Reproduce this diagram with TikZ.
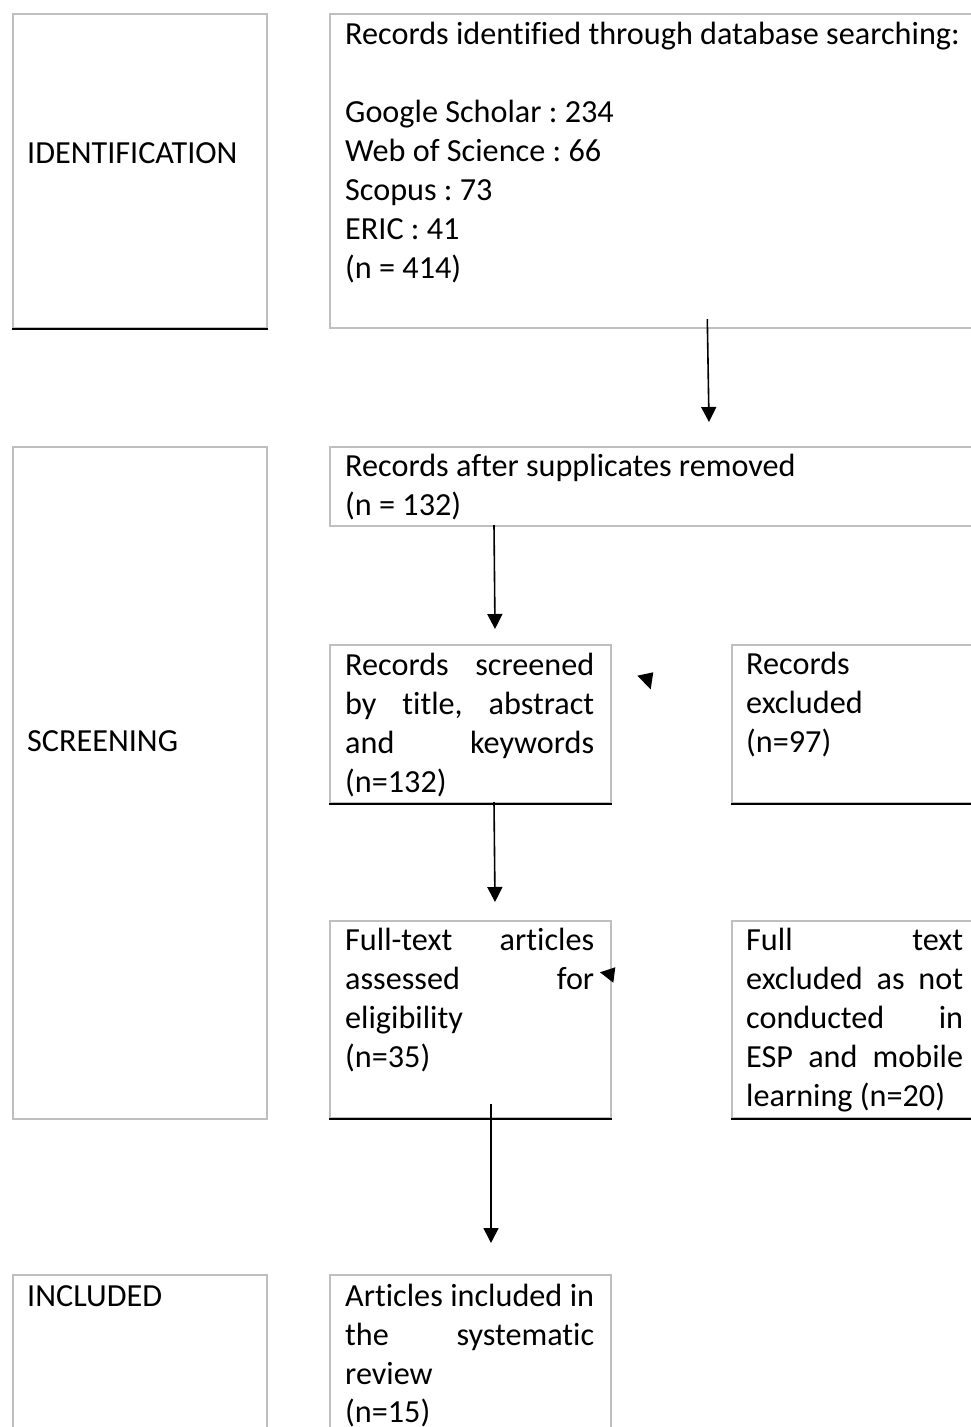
\documentclass[tikz,border=0pt]{standalone}
\usepackage{fontspec}
\setmainfont[Ligatures=NoCommon]{Carlito}
\usetikzlibrary{arrows.meta}
\definecolor{boxgray}{HTML}{BFBFBF}
\frenchspacing
\begin{document}
\frenchspacing
\begin{tikzpicture}[x=1pt,y=-1pt,
  box/.style={draw=boxgray, line width=2pt, rectangle, inner sep=0pt, anchor=north west},
  ln/.style={font=\fontsize{32.2}{39}\selectfont, inner sep=0pt, anchor=base west},
  arr/.style={line width=1.6pt, -{Triangle[width=15pt,length=15pt]}},
  blk/.style={line width=2.2pt, black},
  head/.style={fill=black}]
\useasboundingbox[fill=white] (0,0) rectangle (970,1427);

% boxes
\node[box, minimum width=254pt, minimum height=314pt] (idbox) at (12,13) {};
\node[box, minimum width=660pt, minimum height=314pt] (recid) at (329,13) {};
\node[box, minimum width=254pt, minimum height=672pt] (scrbox) at (12,446) {};
\node[box, minimum width=660pt, minimum height=79pt] (recafter) at (329,446) {};
\node[box, minimum width=281pt, minimum height=158pt] (screened) at (329,644) {};
\node[box, minimum width=250pt, minimum height=158pt] (excl1) at (731,644) {};
\node[box, minimum width=281pt, minimum height=197pt] (fulltext) at (329,920) {};
\node[box, minimum width=250pt, minimum height=197pt] (excl2) at (731,920) {};
\node[box, minimum width=254pt, minimum height=200pt] (incbox) at (12,1274) {};
\node[box, minimum width=281pt, minimum height=200pt] (artbox) at (329,1274) {};

% black bottom edges
\draw[blk] (idbox.south west) -- (idbox.south east);
\draw[blk] (screened.south west) -- (screened.south east);
\draw[blk] (excl1.south west) -- (excl1.south east);
\draw[blk] (fulltext.south west) -- (fulltext.south east);
\draw[blk] (excl2.south west) -- (excl2.south east);

% stage labels
\node[ln] (lid) at (27,163) {IDENTIFICATION};
\node[ln] (lscr) at (27,751) {SCREENING};
\node[ln] (linc) at (27,1306) {INCLUDED};

% records identified
\node[ln] (r1) at (345,44) {Records identified through database searching:};
\node[ln] (r2) at (345,122) {Google Scholar : 234};
\node[ln] (r3) at (345,161) {Web of Science : 66};
\node[ln] (r4) at (345,200) {Scopus : 73};
\node[ln] (r5) at (345,239) {ERIC : 41};
\node[ln] (r6) at (345,278) {(n = 414)};

% records after
\node[ln] (d1) at (345,476) {Records after supplicates removed};
\node[ln] (d2) at (345,515) {(n = 132)};

% screened
\node[ln] (s1) at (345,675) {\makebox[249pt][s]{Records screened}};
\node[ln] (s2) at (345,714) {\makebox[249pt][s]{by title, abstract}};
\node[ln] (s3) at (345,753) {\makebox[249pt][s]{and keywords}};
\node[ln] (s4) at (345,792) {(n=132)};

% excluded 1
\node[ln] (e1) at (746,674) {Records};
\node[ln] (e2) at (746,713) {excluded};
\node[ln] (e3) at (746,752) {(n=97)};

% full text
\node[ln] (f1) at (345,950) {\makebox[249pt][s]{Full-text articles}};
\node[ln] (f2) at (345,989) {\makebox[249pt][s]{assessed for}};
\node[ln] (f3) at (345,1028) {eligibility};
\node[ln] (f4) at (345,1067) {(n=35)};

% excluded 2
\node[ln] (g1) at (746,950) {\makebox[217pt][s]{Full text}};
\node[ln] (g2) at (746,989) {\makebox[217pt][s]{excluded as not}};
\node[ln] (g3) at (746,1028) {\makebox[217pt][s]{conducted in}};
\node[ln] (g4) at (746,1067) {\makebox[217pt][s]{ESP and mobile}};
\node[ln] (g5) at (746,1106) {learning (n=20)};

% included articles
\node[ln] (i1) at (345,1306) {\makebox[249pt][s]{Articles included in}};
\node[ln] (i2) at (345,1345) {\makebox[249pt][s]{the systematic}};
\node[ln] (i3) at (345,1384) {review};
\node[ln] (i4) at (345,1422) {(n=15)};

% arrows
\coordinate (a1s) at (707.3,319);
\coordinate (a1e) at (709,422);
\coordinate (a2s) at (494,525);
\coordinate (a2e) at (495,629);
\coordinate (a3s) at (494,802);
\coordinate (a3e) at (495,902);
\coordinate (a4s) at (491,1104);
\coordinate (a4e) at (491,1243);
\draw[arr] (a1s) -- (a1e);
\draw[arr] (a2s) -- (a2e);
\draw[arr] (a3s) -- (a3e);
\draw[arr] (a4s) -- (a4e);

% stray arrowheads
\fill[head] (637.3,675.7) -- (653.3,672.3) -- (650.7,689.3) -- cycle;
\fill[head] (600,972.3) -- (615.3,967.3) -- (613.3,982.7) -- cycle;
\end{tikzpicture}
\end{document}
